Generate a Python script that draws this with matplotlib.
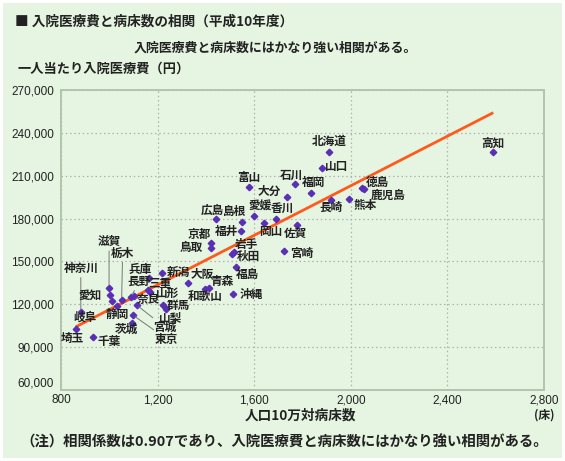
import matplotlib
matplotlib.use("Agg")
import matplotlib.pyplot as plt
import numpy as np
from matplotlib.patches import Rectangle
from matplotlib.ticker import FuncFormatter

plt.rcParams['font.family'] = ['Noto Sans CJK JP', 'DejaVu Sans']

# ---- data ----
prefectures = ['北海道', '山口', '石川', '福岡', '大分', '富山', '愛媛', '香川', '広島', '島根',
               '京都', '福井', '鳥取', '岩手', '秋田', '岡山', '佐賀', '宮崎', '福島', '沖縄',
               '高知', '徳島', '鹿児島', '熊本', '長崎', '滋賀', '栃木', '神奈川', '兵庫', '長野',
               '三重', '新潟', '大阪', '青森', '山形', '和歌山', '奈良', '群馬', '山梨', '宮城',
               '東京', '愛知', '岐阜', '静岡', '茨城', '埼玉', '千葉']
beds = [1910, 1882, 1769, 1835, 1734, 1578, 1599, 1690, 1440, 1548,
        1420, 1545, 1420, 1515, 1508, 1642, 1778, 1725, 1525, 1513,
        2590, 2045, 2055, 1994, 1917, 999, 1051, 882, 1166, 1090,
        1161, 1217, 1325, 1413, 1168, 1396, 1104, 1224, 1233, 1113,
        1097, 1003, 1011, 1031, 1093, 861, 931]
costs = [226800, 215600, 204000, 198100, 195300, 201900, 182000, 179900, 179500, 177600,
         163100, 171300, 159600, 156300, 155200, 176700, 175500, 157300, 146300, 127200,
         226800, 201500, 200500, 193700, 193000, 131600, 123000, 114400, 138200, 124900,
         130000, 141900, 134700, 131750, 128400, 130700, 126000, 119500, 116500, 119500,
         112500, 126500, 122300, 119000, 107100, 102500, 97300]

x_ticks = [800, 1200, 1600, 2000, 2400, 2800]
y_ticks = [60000, 90000, 120000, 150000, 180000, 210000, 240000, 270000]

title = '■ 入院医療費と病床数の相関（平成10年度）'
subtitle = '入院医療費と病床数にはかなり強い相関がある。'
y_label = '一人当たり入院医療費（円）'
x_label = '人口10万対病床数'
x_unit = '(床)'
note = '（注）相関係数は0.907であり、入院医療費と病床数にはかなり強い相関がある。'

# label placement (pixel offsets of label centre from the point)
label_offsets = {
    '北海道': (0, 10), '山口': (14, 1), '石川': (-4, 9), '福岡': (3, 10), '大分': (-17, 5),
    '富山': (0, 10), '愛媛': (6, 10), '香川': (6, 10), '広島': (-3, 9), '島根': (-8, 11),
    '京都': (-11, 8), '福井': (-14, 0), '鳥取': (-19, 0), '岩手': (13, 8), '秋田': (16, -2),
    '岡山': (6, -8), '佐賀': (-2, -8), '宮崎': (17, -2), '福島': (11, -8), '沖縄': (18, 0),
    '高知': (0, 9), '徳島': (16, 6), '鹿児島': (24, -6), '熊本': (16, -6), '長崎': (0, -7),
    '滋賀': (0, 46), '栃木': (1, 47), '神奈川': (0, 44), '兵庫': (-9, 9), '長野': (8, 16),
    '三重': (12, 7), '新潟': (17, 1), '大阪': (14, 9), '青森': (13, 6), '山形': (18, -1),
    '和歌山': (0, -8), '奈良': (14, -4), '群馬': (15, 0), '山梨': (5, -9), '宮城': (28, -22),
    '東京': (34, -24), '愛知': (-20, 0), '岐阜': (-27, -16), '静岡': (0, -9), '茨城': (-5, -7),
    '埼玉': (-3, -9), '千葉': (16, -5)}
leader_labels = {'滋賀', '栃木', '神奈川', '長野', '宮城', '東京'}

# ---- figure ----
W, H = 565, 461
BG = '#e6f5e1'
fig = plt.figure(figsize=(W / 100, H / 100), dpi=100, facecolor='white')
fig.patches.append(Rectangle((3 / W, 3 / H), 559 / W, 455 / H, transform=fig.transFigure,
                             facecolor=BG, edgecolor='none', zorder=-10))

ax = fig.add_axes([61 / W, 1 - 390 / H, 483 / W, 300 / H])
ax.set_facecolor(BG)
ax.set_xlim(x_ticks[0], x_ticks[-1])
ax.set_ylim(y_ticks[0], y_ticks[-1])

for s in ax.spines.values():
    s.set_color('#b4c3ad')
    s.set_linewidth(1.4)

ax.set_xticks(x_ticks)
ax.set_yticks(y_ticks)
ax.xaxis.set_major_formatter(FuncFormatter(lambda v, p: f'{int(v):,}'))
ax.yaxis.set_major_formatter(FuncFormatter(lambda v, p: f'{int(v):,}'))
ax.tick_params(length=0, labelsize=8.5, colors='#222222')
ax.tick_params(axis='y', pad=5)
ax.tick_params(axis='x', pad=3)
for lbl in ax.get_xticklabels() + ax.get_yticklabels():
    lbl.set_family(['Liberation Sans Narrow', 'Liberation Sans', 'DejaVu Sans'])
ax.get_yticklabels()[0].set_verticalalignment('bottom')

ax.grid(True, color='#b0b0b0', linestyle=(0, (1.2, 2.2)), linewidth=0.9)
ax.set_axisbelow(True)

# trend line (least squares fit of the data)
bx = np.array(beds, dtype=float)
cy = np.array(costs, dtype=float)
slope, intercept = np.polyfit(bx, cy, 1)
xs = np.array([bx.min(), bx.max()])
ax.plot(xs, slope * xs + intercept, color='#ff5a1e', lw=2.0, zorder=2, solid_capstyle='butt')

ax.plot(bx, cy, linestyle='none', marker='D', markersize=3.3, color='#5a2fb5', zorder=3)

for name, x, y in zip(prefectures, beds, costs):
    dx, dy = label_offsets[name]
    kw = {}
    if name in leader_labels:
        kw['arrowprops'] = dict(arrowstyle='-', color='#777777', lw=0.7,
                                shrinkA=0, shrinkB=2)
    ax.annotate(name, (x, y), xytext=(dx, dy), textcoords='offset pixels',
                ha='center', va='center', fontsize=8.4, fontweight='bold',
                color='#222222', zorder=4, **kw)

# texts
fig.text(15 / W, 1 - 22 / H, title, fontsize=9.8, fontweight='bold', ha='left', va='center', color='#222222')
fig.text(275 / W, 1 - 48 / H, subtitle, fontsize=9.3, fontweight='bold', ha='center', va='center', color='#222222')
fig.text(17 / W, 1 - 69 / H, y_label, fontsize=9.5, fontweight='bold', ha='left', va='center', color='#222222')
fig.text(300 / W, 1 - 416 / H, x_label, fontsize=9.8, fontweight='bold', ha='center', va='center', color='#222222')
fig.text(544 / W, 1 - 415 / H, x_unit, fontsize=8.5, fontweight='bold', ha='center', va='center', color='#222222')
fig.text(20 / W, 1 - 442 / H, note, fontsize=10.4, fontweight='bold', ha='left', va='center', color='#222222')

fig.savefig('out.png', dpi=100, facecolor=fig.get_facecolor())
